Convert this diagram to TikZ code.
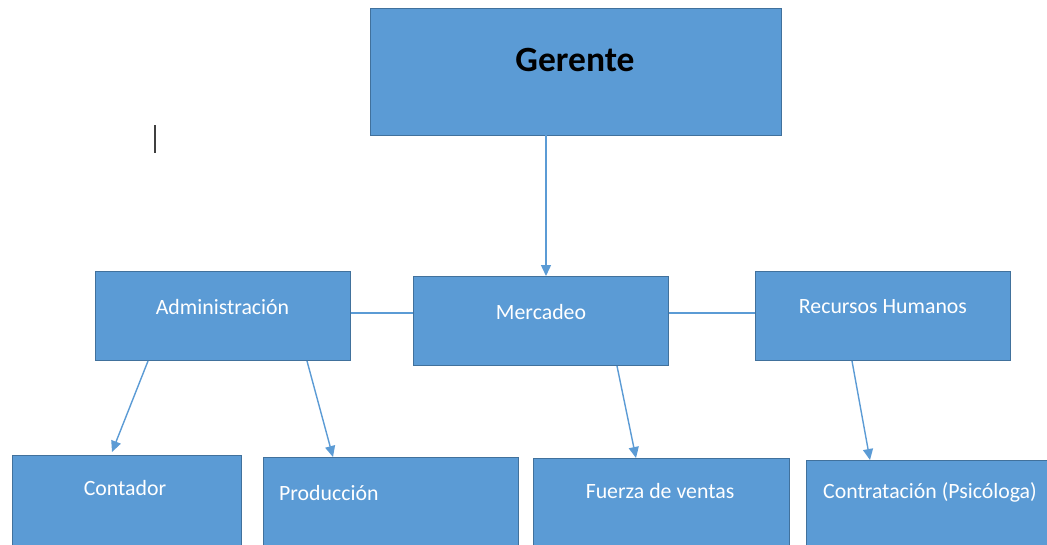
\documentclass[tikz,border=0pt]{standalone}
\usepackage{fontspec}
\setmainfont{Carlito}
\usetikzlibrary{arrows.meta}
\definecolor{boxfill}{HTML}{5B9BD5}
\definecolor{boxline}{HTML}{41719C}
\definecolor{conn}{HTML}{5B9BD5}
\tikzset{
  box/.style={draw=boxline, line width=1pt, fill=boxfill, rectangle, inner sep=0pt},
  lbl/.style={text=white, font=\fontsize{21.8}{25}\selectfont, inner sep=0pt},
  link/.style={draw=conn, line width=1.4pt},
  arr/.style={link, -{Triangle[length=11pt,width=10pt]}}
}
\begin{document}
\begin{tikzpicture}[x=1pt,y=-1pt]
\useasboundingbox (0,0) rectangle (1047,544);
\clip (0,0) rectangle (1047,544);
\fill[white] (0,0) rectangle (1047,544);
% boxes
\node[box, minimum width=411pt, minimum height=127pt] (ger) at (575.5,71.5) {};
\node[box, minimum width=255pt, minimum height=89pt] (adm) at (222.5,315.5) {};
\node[box, minimum width=255pt, minimum height=89pt] (mer) at (540.5,320.5) {};
\node[box, minimum width=255pt, minimum height=89pt] (rh) at (882.5,315.5) {};
\node[box, minimum width=229pt, minimum height=100pt] (con) at (126.5,505) {};
\node[box, minimum width=255pt, minimum height=100pt] (pro) at (390.5,507) {};
\node[box, minimum width=256pt, minimum height=100pt] (fue) at (661,508) {};
\node[box, minimum width=256pt, minimum height=100pt] (ctr) at (934,510) {};
% texts
\node[inner sep=0pt, font=\fontsize{35.5}{38}\selectfont\bfseries] (tger) at (575,60) {Gerente};
\node[lbl] (tadm) at (222.5,307) {Administración};
\node[lbl] (tmer) at (541,312) {Mercadeo};
\node[lbl] (trh) at (883,307) {Recursos Humanos};
\node[lbl] (tcon) at (125,488) {Contador};
\node[lbl, anchor=west] (tpro) at (279,493) {Producción};
\node[lbl] (tfue) at (660,491) {Fuerza de ventas};
\node[lbl] (tctr) at (930,492) {Contratación (Psicóloga)};
% connectors
\coordinate (g1) at (546,135);
\coordinate (m1) at (546,276);
\draw[arr] (g1) -- (m1);
\draw[link] (adm.east |- 0,313) -- (mer.west |- 0,313);
\draw[link] (mer.east |- 0,313) -- (rh.west |- 0,313);
\coordinate (a1) at (148,361);
\coordinate (c1) at (112,452);
\draw[arr] (a1) -- (c1);
\coordinate (a2) at (307,361);
\coordinate (p1) at (333,457);
\draw[arr] (a2) -- (p1);
\coordinate (m2) at (617,366);
\coordinate (f1) at (636,458);
\draw[arr] (m2) -- (f1);
\coordinate (r1) at (852,361);
\coordinate (t1) at (870,460);
\draw[arr] (r1) -- (t1);
% text cursor
\coordinate (cur1) at (155,125);
\coordinate (cur2) at (155,153);
\draw[line width=1.6pt, black!75] (cur1) -- (cur2);
\end{tikzpicture}
\end{document}
